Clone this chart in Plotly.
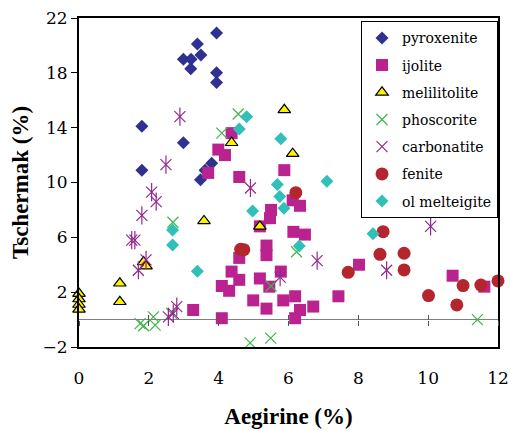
import plotly.graph_objects as go

# ---- data ----
pyro_x = [3.94, 3.39, 2.99, 3.21, 3.49, 3.20, 3.94, 3.94, 1.80, 2.99, 1.80, 3.80, 3.61, 3.48]
pyro_y = [20.9, 20.1, 19.0, 19.0, 19.3, 18.3, 18.0, 17.3, 14.1, 12.9, 10.9, 11.4, 10.9, 10.2]

ij_x = [4.37, 3.99, 4.18, 3.70, 4.59, 5.88, 8.45, 6.12, 6.33, 5.50, 5.47, 5.18, 6.14, 6.47,
        5.37, 5.37, 4.59, 4.37, 4.59, 4.09, 4.30, 5.18, 5.78, 5.45, 4.99, 5.37, 5.85, 6.19,
        6.33, 6.71, 6.19, 4.09, 3.27, 7.43, 8.02, 10.70, 11.61]
ij_y = [13.6, 12.4, 12.0, 10.7, 10.4, 10.9, 10.1, 8.7, 8.3, 8.0, 7.4, 6.8, 6.4, 6.2,
        5.4, 4.7, 4.5, 3.5, 2.9, 2.45, 2.1, 3.0, 3.5, 2.4, 1.4, 0.8, 1.4, 1.7,
        0.7, 0.95, 0.1, 0.1, 0.7, 1.7, 4.0, 3.2, 2.4]

mel_x = [0, 0, 0, 0, 1.17, 1.17, 1.85, 1.92, 3.58, 4.37, 5.88, 6.12, 5.18]
mel_y = [1.9, 1.5, 1.1, 0.75, 2.65, 1.3, 4.2, 3.9, 7.2, 12.9, 15.3, 12.1, 6.8]

ph_x = [4.56, 4.09, 2.69, 1.75, 1.85, 2.13, 2.18, 2.65, 5.50, 6.23, 4.90, 5.49, 11.41]
ph_y = [15.0, 13.6, 7.1, -0.3, -0.45, 0.2, -0.4, 0.45, 2.45, 4.95, -1.7, -1.35, 0.0]

cb_x = [2.89, 2.49, 2.08, 2.21, 1.80, 1.51, 1.60, 1.70, 1.92, 2.80, 2.70, 2.56, 4.91,
        5.76, 6.82, 10.07, 8.81]
cb_y = [14.8, 11.3, 9.3, 8.6, 7.6, 5.8, 5.8, 3.6, 4.35, 0.95, 0.45, 0.2, 9.6,
        3.1, 4.3, 6.8, 3.6]

fe_x = [6.21, 4.63, 4.72, 7.71, 8.62, 8.71, 9.31, 9.31, 10.01, 11.0, 10.82, 11.51, 12.0]
fe_y = [9.26, 5.13, 5.1, 3.45, 4.76, 6.41, 4.84, 3.62, 1.75, 2.48, 1.07, 2.52, 2.82]

om_x = [4.80, 4.59, 5.78, 7.10, 5.68, 5.75, 5.87, 4.97, 6.31, 8.42, 2.68, 2.68, 3.39]
om_y = [14.8, 13.9, 13.2, 10.1, 9.85, 8.97, 8.12, 7.92, 5.37, 6.27, 6.54, 5.44, 3.52]

x_range = [0, 12]
y_range = [-2, 22]

FONT = "DejaVu Serif"          # regular serif text
BFONT = "Liberation Serif"     # bold titles

fig = go.Figure()

def add(name, x, y, marker, group=None, showlegend=True):
    fig.add_trace(go.Scatter(
        x=x, y=y, mode="markers", name=name, marker=marker,
        legendgroup=group or name, showlegend=showlegend, cliponaxis=False,
    ))

add("pyroxenite", pyro_x, pyro_y, dict(symbol="diamond", size=10, color="#2E3192"))
add("ijolite", ij_x, ij_y, dict(symbol="square", size=12, color="#BA2290"))
add("melilitolite", mel_x, mel_y,
    dict(symbol="triangle-up", size=11, color="#FFF200", line=dict(color="black", width=1.2)))
add("phoscorite", ph_x, ph_y,
    dict(symbol="x-thin-open", size=11, color="#3DB54A", line=dict(color="#3DB54A", width=1.2)))
add("carbonatite", cb_x, cb_y,
    dict(symbol="x-thin-open", size=11, color="#93278F", line=dict(color="#93278F", width=1.2)))
add("carbonatite", cb_x, cb_y,
    dict(symbol="line-ns-open", size=13, color="#93278F", line=dict(color="#93278F", width=1.2)),
    group="carbonatite", showlegend=False)
add("fenite", fe_x, fe_y, dict(symbol="circle", size=13, color="#B3262E"))
add("ol melteigite", om_x, om_y, dict(symbol="diamond", size=10, color="#30C0B8"))

# helper traces for the tick crosses on the zero line
for ax in ("x2", "x3"):
    fig.add_trace(go.Scatter(x=[], y=[], xaxis=ax, yaxis="y", showlegend=False,
                             hoverinfo="skip"))

zero_pos = (0 - y_range[0]) / (y_range[1] - y_range[0])

fig.update_layout(
    width=511, height=431,
    margin=dict(l=79, r=13, t=18, b=84, autoexpand=False),
    paper_bgcolor="white", plot_bgcolor="white",
    font=dict(family=FONT, color="black", size=17),
    xaxis=dict(
        range=x_range, dtick=2, tick0=0, showgrid=False, zeroline=False,
        showline=True, mirror=True, linecolor="black", linewidth=2,
        ticks="", ticklabelstandoff=15, automargin=False,
        tickfont=dict(family=FONT, size=17, color="black"),
        title=dict(text="<b>Aegirine (%)</b>", font=dict(family=BFONT, size=23), standoff=20),
    ),
    xaxis2=dict(
        range=x_range, dtick=2, tick0=0, overlaying="x", anchor="free", position=zero_pos,
        showgrid=False, zeroline=False, showline=False, showticklabels=False,
        ticks="outside", ticklen=5, tickcolor="#555555", tickwidth=1,
    ),
    xaxis3=dict(
        range=x_range, dtick=2, tick0=0, overlaying="x", anchor="free", position=zero_pos,
        showgrid=False, zeroline=False, showline=False, showticklabels=False,
        ticks="inside", ticklen=5, tickcolor="#555555", tickwidth=1,
    ),
    yaxis=dict(
        range=y_range, dtick=4, tick0=-2, showgrid=False,
        zeroline=True, zerolinecolor="#7F7F7F", zerolinewidth=1,
        showline=True, mirror=True, linecolor="black", linewidth=2,
        ticks="outside", ticklen=6, tickcolor="black", tickwidth=1, automargin=False,
        tickfont=dict(family=FONT, size=17, color="black"),
        title=dict(text="<b>Tschermak (%)</b>", font=dict(family=BFONT, size=23), standoff=7),
    ),
    legend=dict(
        x=1.0, y=0.99, xanchor="right", yanchor="top",
        bgcolor="white", bordercolor="black", borderwidth=1,
        font=dict(family=FONT, size=14, color="black"),
        traceorder="grouped", tracegroupgap=6,
    ),
    showlegend=True,
)

fig.write_html("out.html")
